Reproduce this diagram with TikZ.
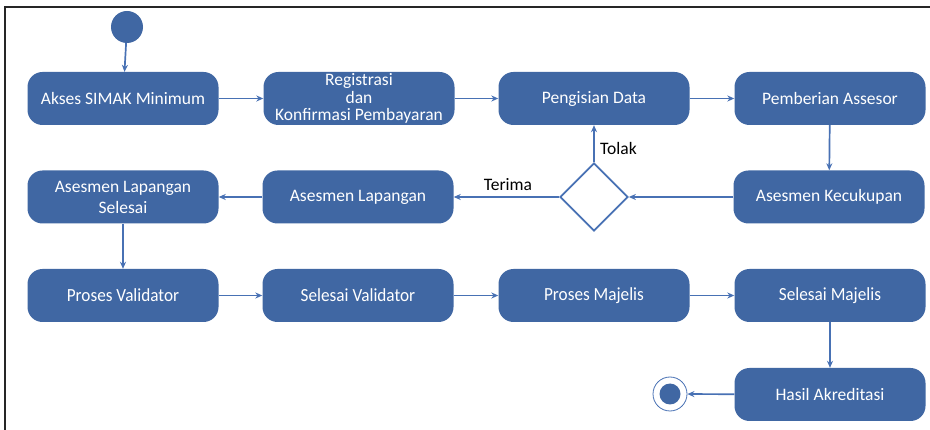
\documentclass[tikz,border=0pt]{standalone}
\usepackage{fontspec}
\setmainfont{Carlito}
\usetikzlibrary{arrows.meta,shapes.geometric}
\definecolor{boxblue}{RGB}{64,103,163}
\definecolor{lineblue}{RGB}{72,113,180}
\tikzset{
  act/.style={rounded corners=15pt, fill=boxblue, text=white, minimum width=191pt,
    minimum height=53pt, inner sep=0pt, align=center, font=\fontsize{17.5}{17.5}\selectfont},
  flow/.style={draw=lineblue, line width=1.7pt, -{Stealth[length=7pt,width=6pt]}},
  lbl/.style={text=black, font=\fontsize{17.5}{19}\selectfont, inner sep=1pt}
}
\newcommand{\cond}[1]{\scalebox{0.93}[1]{\fontsize{18.5}{19}\selectfont #1}}
\begin{document}
\begin{tikzpicture}[x=1pt,y=-1pt]
\useasboundingbox (0,0) rectangle (930,430);
\fill[white] (0,0) rectangle (930,430);
% frame
\draw[line width=1.8pt, black!85] (5,430) -- (5,7) -- (930,7);
% start
\node[circle, fill=boxblue, minimum size=32pt, inner sep=0pt] (start) at (127,27) {};
% row 1
\node[act] (akses) at (123,98.5) {Akses SIMAK Minimum};
\node[act] (reg) at (359,98.5) {Registrasi\\dan\\Konfirmasi Pembayaran};
\node[act] (isi) at (594,98.5) {Pengisian Data};
\node[act] (beri) at (830,98.5) {Pemberian Assesor};
% row 2
\node[act, font=\fontsize{17.5}{21}\selectfont] (lapsel) at (123,197) {Asesmen Lapangan\\Selesai};
\node[act] (lap) at (358,197) {Asesmen Lapangan};
\node[diamond, draw=lineblue, line width=1.7pt, minimum width=68pt, minimum height=68pt, inner sep=0pt] (dec) at (594,197) {};
\node[act] (cukup) at (829,197) {Asesmen Kecukupan};
% row 3
\node[act] (pval) at (123,295.5) {\cond{Proses Validator}};
\node[act] (sval) at (358,295.5) {\cond{Selesai Validator}};
\node[act] (pmaj) at (594,295.5) {\cond{Proses Majelis}};
\node[act] (smaj) at (830,295.5) {\cond{Selesai Majelis}};
% row 4
\node[act] (hasil) at (830,394.5) {Hasil Akreditasi};
\node[circle, draw=lineblue, line width=0.8pt, fill=white, minimum size=34pt, inner sep=0pt] (end) at (670,394) {};
\node[circle, fill=boxblue, minimum size=21pt, inner sep=0pt] (endin) at (end.center) {};
% connectors
\draw[flow] (start) -- (akses);
\draw[flow] (akses) -- (reg);
\draw[flow] (reg) -- (isi);
\draw[flow] (isi) -- (beri);
\draw[flow] (beri) -- (cukup);
\draw[flow] (cukup) -- (dec.east);
\draw[flow] (dec.north) -- (isi.south);
\draw[flow] (dec.west) -- (lap.east);
\draw[flow] (lap) -- (lapsel);
\draw[flow] (lapsel) -- (pval);
\draw[flow] (pval) -- (sval);
\draw[flow] (sval) -- (pmaj);
\draw[flow] (pmaj) -- (smaj);
\draw[flow] (smaj) -- (hasil);
\draw[flow] (hasil) -- (end);
% labels
\node[lbl, anchor=west] (tolak) at (599,148) {Tolak};
\node[lbl] (terima) at (508,185) {Terima};
\end{tikzpicture}
\end{document}
